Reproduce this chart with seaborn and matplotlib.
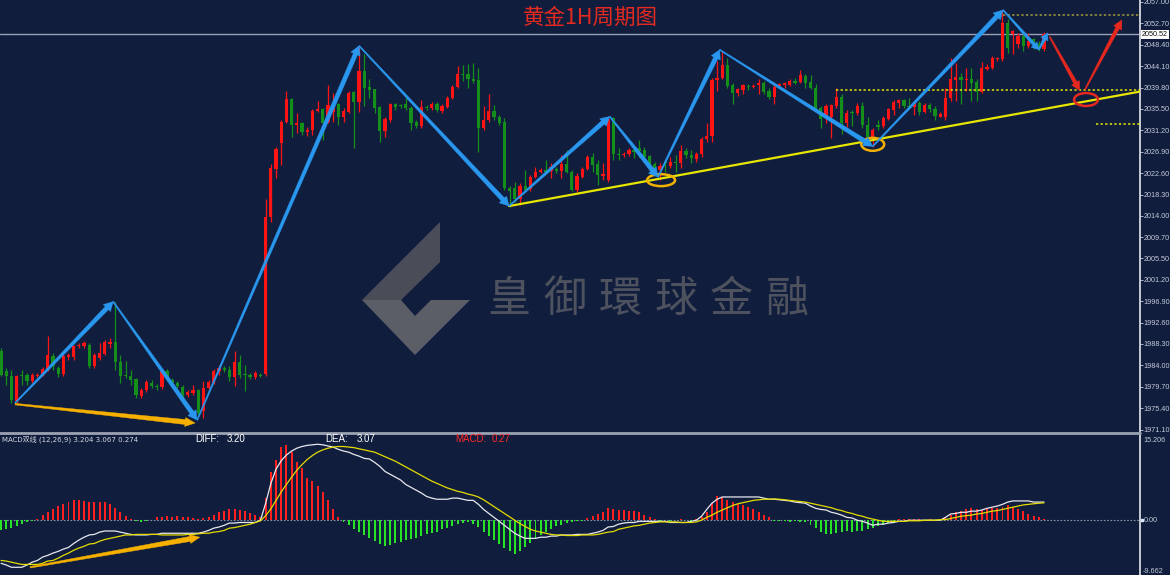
import numpy as np
import matplotlib
matplotlib.use('Agg')
import matplotlib.pyplot as plt
import seaborn as sns
from matplotlib.patches import Polygon, Ellipse
from matplotlib.lines import Line2D
from matplotlib.transforms import IdentityTransform

# gold 1H candles (bar index 0..201)
opens = [
    1986.8, 1982.8, 1981.8, 1976.8, 1982.0, 1982.0, 1980.8, 1981.9, 1982.2, 1983.0,
    1985.8, 1983.4, 1982.2, 1985.6, 1985.6, 1987.8, 1987.8, 1988.0, 1983.8, 1985.4,
    1986.2, 1988.2, 1988.6, 1984.6, 1982.0, 1981.8, 1981.2, 1977.8, 1979.0, 1980.4,
    1979.8, 1979.6, 1982.8, 1981.0, 1980.4, 1979.6, 1978.0, 1978.4, 1979.0, 1974.8,
    1979.4, 1980.4, 1982.8, 1983.4, 1983.0, 1981.6, 1984.6, 1982.2, 1982.0, 1981.6,
    1982.1, 1982.2, 2013.7, 2023.4, 2028.6, 2032.8, 2037.6, 2032.2, 2032.6, 2030.8,
    2031.2, 2035.0, 2035.4, 2032.8, 2034.8, 2036.6, 2033.8, 2034.8, 2039.0, 2037.0,
    2043.2, 2040.0, 2039.6, 2036.0, 2031.0, 2033.2, 2036.6, 2036.3, 2036.6, 2035.6,
    2032.8, 2032.0, 2036.0, 2035.6, 2036.6, 2035.0, 2036.0, 2037.8, 2040.0, 2042.6,
    2042.6, 2041.6, 2041.4, 2031.6, 2033.2, 2035.0, 2033.8, 2032.8, 2019.6, 2019.6,
    2017.5, 2020.0, 2019.4, 2021.8, 2022.8, 2023.2, 2023.0, 2023.4, 2023.0, 2024.4,
    2022.8, 2019.2, 2021.8, 2023.4, 2025.8, 2024.4, 2022.1, 2021.2, 2033.6, 2026.4,
    2026.2, 2026.4, 2027.2, 2027.6, 2027.2, 2026.0, 2024.4, 2023.2, 2024.8, 2024.0,
    2024.8, 2024.6, 2027.0, 2026.2, 2025.4, 2026.4, 2029.4, 2030.0, 2041.4, 2041.8,
    2044.4, 2040.4, 2038.8, 2039.4, 2040.2, 2040.0, 2040.4, 2040.8, 2039.2, 2038.0,
    2040.2, 2040.4, 2040.4, 2041.2, 2041.0, 2042.2, 2041.0, 2039.8, 2035.8, 2033.6,
    2033.8, 2036.2, 2038.0, 2032.6, 2034.8, 2034.6, 2036.2, 2032.2, 2029.6, 2032.2,
    2032.0, 2033.4, 2035.2, 2036.8, 2037.4, 2036.2, 2036.0, 2036.8, 2034.8, 2036.4,
    2035.4, 2033.8, 2033.8, 2037.8, 2041.4, 2042.0, 2041.4, 2041.6, 2041.0, 2039.0,
    2043.6, 2043.8, 2045.5, 2045.5, 2052.7, 2050.5, 2048.5, 2050.1, 2048.1, 2049.5,
    2048.5, 2047.5,
]
highs = [
    1987.4, 1983.4, 1983.0, 1982.0, 1983.0, 1982.4, 1982.4, 1982.4, 1983.6, 1989.8,
    1986.4, 1983.8, 1986.2, 1986.4, 1988.0, 1988.4, 1988.8, 1988.4, 1986.4, 1988.4,
    1989.0, 1989.4, 1996.7, 1986.0, 1984.8, 1983.0, 1981.4, 1979.4, 1981.0, 1981.0,
    1980.2, 1983.2, 1983.2, 1981.4, 1980.8, 1980.0, 1979.0, 1980.0, 1979.2, 1980.8,
    1981.0, 1983.2, 1984.0, 1983.8, 1983.8, 1986.8, 1986.0, 1984.0, 1982.4, 1982.8,
    1982.4, 2017.5, 2024.4, 2027.8, 2033.2, 2039.2, 2037.8, 2034.6, 2032.8, 2031.8,
    2035.4, 2037.2, 2035.6, 2040.4, 2038.8, 2036.8, 2035.6, 2039.2, 2039.2, 2047.9,
    2046.5, 2041.6, 2039.6, 2036.2, 2033.8, 2036.8, 2036.8, 2036.6, 2037.8, 2036.2,
    2033.2, 2037.4, 2036.4, 2037.0, 2037.0, 2036.6, 2038.2, 2040.4, 2044.2, 2044.4,
    2044.6, 2044.8, 2043.8, 2036.2, 2038.6, 2036.4, 2034.2, 2033.6, 2020.0, 2020.8,
    2020.6, 2023.2, 2022.2, 2023.8, 2023.6, 2025.2, 2024.6, 2023.8, 2026.2, 2027.2,
    2023.2, 2022.6, 2023.8, 2026.2, 2026.6, 2025.2, 2024.6, 2033.8, 2033.8, 2027.6,
    2026.8, 2027.6, 2027.6, 2029.2, 2027.8, 2026.2, 2024.8, 2024.6, 2025.2, 2025.8,
    2026.2, 2028.2, 2027.6, 2027.2, 2026.8, 2029.8, 2032.6, 2041.8, 2045.1, 2047.1,
    2045.7, 2040.8, 2039.8, 2040.6, 2040.6, 2040.6, 2041.6, 2041.2, 2039.8, 2040.6,
    2040.8, 2041.0, 2041.6, 2041.8, 2043.4, 2042.6, 2042.4, 2040.6, 2036.2, 2036.6,
    2036.6, 2039.8, 2038.6, 2035.2, 2035.2, 2036.8, 2037.0, 2033.8, 2031.6, 2033.2,
    2034.0, 2035.8, 2037.4, 2037.6, 2037.6, 2037.8, 2037.2, 2037.2, 2036.8, 2036.8,
    2036.2, 2034.8, 2039.8, 2045.7, 2044.8, 2042.8, 2043.8, 2043.8, 2041.6, 2045.0,
    2044.6, 2046.1, 2046.0, 2055.3, 2053.5, 2051.3, 2050.7, 2050.5, 2050.7, 2049.7,
    2049.1, 2050.9,
]
lows = [
    1981.8, 1980.0, 1976.4, 1976.4, 1980.0, 1980.0, 1980.4, 1981.6, 1981.8, 1982.8,
    1983.0, 1981.6, 1981.8, 1985.0, 1985.0, 1987.4, 1987.4, 1983.4, 1983.4, 1985.0,
    1986.0, 1987.4, 1983.0, 1980.4, 1981.4, 1980.0, 1977.4, 1977.4, 1978.6, 1979.4,
    1979.0, 1979.2, 1981.0, 1980.0, 1979.4, 1977.6, 1977.6, 1978.0, 1974.0, 1973.4,
    1979.0, 1980.2, 1982.0, 1982.6, 1980.8, 1979.8, 1981.4, 1978.8, 1981.2, 1981.2,
    1981.6, 1981.8, 2012.7, 2021.6, 2024.2, 2032.6, 2029.8, 2030.6, 2030.2, 2030.0,
    2030.2, 2034.8, 2029.2, 2032.6, 2032.8, 2032.2, 2032.8, 2034.6, 2027.6, 2034.8,
    2036.2, 2037.8, 2034.6, 2028.8, 2029.8, 2032.8, 2035.2, 2035.8, 2035.2, 2031.2,
    2031.6, 2031.6, 2035.2, 2035.2, 2034.8, 2034.6, 2035.6, 2037.6, 2039.8, 2041.2,
    2039.8, 2040.8, 2026.8, 2031.2, 2032.8, 2033.2, 2032.2, 2019.2, 2015.9, 2016.9,
    2016.3, 2018.8, 2019.0, 2021.6, 2022.6, 2022.6, 2021.6, 2022.6, 2021.6, 2022.6,
    2019.0, 2018.8, 2021.6, 2023.2, 2022.8, 2020.2, 2021.2, 2020.8, 2025.2, 2025.2,
    2025.8, 2026.0, 2025.6, 2025.8, 2025.2, 2023.2, 2022.6, 2021.2, 2022.8, 2023.6,
    2022.8, 2023.6, 2025.6, 2024.6, 2024.8, 2025.8, 2028.8, 2028.8, 2039.2, 2041.6,
    2039.8, 2036.6, 2038.2, 2038.6, 2039.4, 2039.8, 2038.6, 2038.6, 2037.6, 2036.6,
    2039.8, 2039.8, 2040.2, 2040.6, 2040.8, 2039.8, 2039.6, 2035.2, 2031.6, 2032.6,
    2029.6, 2035.8, 2030.4, 2031.8, 2032.0, 2034.2, 2031.6, 2029.2, 2027.8, 2031.2,
    2031.6, 2033.2, 2034.2, 2035.6, 2035.8, 2035.6, 2034.2, 2034.2, 2034.6, 2034.8,
    2033.2, 2033.8, 2033.2, 2037.2, 2037.2, 2036.6, 2039.2, 2037.2, 2037.2, 2038.8,
    2043.4, 2043.6, 2045.2, 2045.2, 2046.7, 2046.5, 2047.7, 2047.1, 2047.7, 2047.5,
    2047.1, 2047.2,
]
closes = [
    1982.0, 1981.8, 1977.0, 1981.8, 1981.8, 1980.8, 1982.0, 1982.1, 1983.2, 1986.0,
    1983.8, 1982.2, 1985.8, 1986.0, 1987.8, 1988.0, 1988.4, 1983.8, 1986.0, 1986.4,
    1988.6, 1988.6, 1984.6, 1981.8, 1981.8, 1981.0, 1978.0, 1979.0, 1980.6, 1979.8,
    1979.6, 1982.8, 1981.4, 1980.4, 1979.8, 1978.0, 1978.6, 1979.0, 1974.4, 1979.4,
    1980.6, 1982.8, 1983.4, 1983.0, 1981.6, 1984.6, 1982.0, 1982.0, 1981.6, 1982.4,
    1981.9, 2013.7, 2023.6, 2027.4, 2032.8, 2037.6, 2032.2, 2032.6, 2030.8, 2031.2,
    2035.0, 2035.4, 2032.6, 2036.4, 2036.8, 2033.8, 2035.0, 2038.8, 2037.0, 2043.2,
    2039.8, 2039.4, 2035.8, 2031.0, 2033.4, 2036.6, 2036.0, 2036.1, 2035.6, 2032.6,
    2032.0, 2036.0, 2035.6, 2036.6, 2035.2, 2036.2, 2037.8, 2040.0, 2042.6, 2042.4,
    2041.6, 2041.2, 2031.6, 2033.2, 2035.0, 2033.8, 2032.6, 2019.6, 2019.0, 2017.5,
    2020.0, 2019.2, 2021.8, 2022.8, 2023.2, 2022.8, 2023.8, 2023.0, 2024.4, 2022.8,
    2019.2, 2022.0, 2023.4, 2025.8, 2024.2, 2022.2, 2022.5, 2033.4, 2026.4, 2026.2,
    2026.4, 2027.2, 2026.8, 2027.0, 2025.8, 2024.4, 2023.2, 2024.0, 2024.6, 2024.8,
    2024.6, 2027.0, 2026.2, 2025.6, 2026.4, 2029.4, 2030.0, 2041.4, 2041.8, 2044.4,
    2040.2, 2038.8, 2039.6, 2040.4, 2040.0, 2040.2, 2040.8, 2039.0, 2038.0, 2040.0,
    2040.6, 2040.8, 2041.2, 2040.8, 2042.4, 2040.8, 2039.8, 2035.8, 2033.4, 2036.2,
    2036.4, 2038.0, 2032.6, 2034.6, 2034.6, 2036.2, 2032.2, 2029.8, 2031.2, 2031.8,
    2033.6, 2035.4, 2037.0, 2037.4, 2036.2, 2036.0, 2036.8, 2034.8, 2036.4, 2035.4,
    2034.0, 2034.4, 2037.8, 2041.6, 2042.0, 2041.4, 2041.6, 2040.8, 2039.0, 2043.8,
    2044.0, 2045.7, 2045.7, 2052.7, 2047.7, 2051.1, 2050.1, 2048.1, 2049.1, 2048.5,
    2047.7, 2050.5,
]

# MACD(12,26,9) panel
macd_diff = [
    -7.6, -7.9, -8.3, -8.3, -8.3, -7.9, -7.4, -7.1, -6.5, -6.2,
    -5.8, -5.5, -5.1, -4.8, -4.1, -3.5, -3.0, -2.6, -2.5, -2.1,
    -1.9, -1.9, -1.9, -2.1, -2.3, -2.5, -2.6, -2.6, -2.6, -2.5,
    -2.5, -2.3, -2.3, -2.3, -2.3, -2.3, -2.3, -2.3, -2.3, -2.1,
    -1.8, -1.4, -1.2, -0.9, -0.5, -0.5, -0.4, -0.4, -0.4, -0.4,
    0.0, 3.0, 6.5, 9.0, 10.5, 11.5, 12.2, 12.7, 13.0, 13.2,
    13.3, 13.4, 13.3, 13.1, 12.9, 12.5, 12.2, 12.0, 11.6, 11.3,
    10.9, 10.8, 10.2, 9.5, 8.6, 8.1, 7.6, 7.1, 6.3, 5.8,
    5.3, 4.8, 4.2, 3.9, 3.7, 3.7, 3.7, 3.9, 3.9, 3.7,
    3.5, 3.5, 2.8, 1.9, 1.2, 0.5, -0.2, -0.9, -1.6, -2.3,
    -2.8, -3.2, -3.2, -3.2, -3.0, -3.0, -2.8, -2.8, -2.6, -2.6,
    -2.6, -2.5, -2.5, -2.5, -2.3, -2.1, -1.8, -1.2, -1.1, -0.7,
    -0.5, -0.4, -0.4, -0.2, -0.2, -0.2, -0.2, -0.2, -0.2, -0.4,
    -0.4, -0.4, -0.4, -0.2, 0.0, 0.7, 1.9, 3.0, 3.7, 4.1,
    4.1, 4.1, 4.1, 4.1, 4.1, 4.1, 4.1, 3.9, 3.7, 3.7,
    3.6, 3.5, 3.4, 3.2, 3.1, 3.0, 2.5, 2.1, 1.9, 1.8,
    1.4, 1.2, 0.9, 0.5, 0.4, 0.0, -0.2, -0.5, -0.9, -0.7,
    -0.7, -0.5, -0.4, -0.2, -0.2, 0.0, 0.0, 0.0, 0.0, 0.0,
    0.0, 0.0, 0.5, 1.1, 1.2, 1.4, 1.4, 1.6, 1.6, 1.8,
    2.1, 2.3, 2.5, 2.8, 3.2, 3.4, 3.4, 3.4, 3.4, 3.2,
    3.2, 3.204,
]
macd_dea = [
    -7.1, -7.2, -7.4, -7.6, -7.8, -7.8, -7.8, -7.8, -7.6, -7.2,
    -7.1, -6.7, -6.2, -5.8, -5.3, -4.9, -4.6, -4.2, -4.1, -3.7,
    -3.4, -3.2, -3.0, -2.8, -2.6, -2.6, -2.5, -2.5, -2.5, -2.5,
    -2.5, -2.6, -2.6, -2.6, -2.6, -2.6, -2.5, -2.5, -2.4, -2.3,
    -2.3, -2.1, -2.0, -1.8, -1.4, -1.3, -1.1, -0.9, -0.7, -0.4,
    -0.1, 0.8, 2.0, 3.5, 5.0, 6.3, 7.6, 8.8, 9.8, 10.7,
    11.4, 12.0, 12.4, 12.7, 12.9, 13.0, 13.0, 12.9, 12.8, 12.6,
    12.4, 12.2, 12.0, 11.6, 11.2, 10.8, 10.4, 9.9, 9.4, 8.9,
    8.4, 7.9, 7.4, 6.9, 6.5, 6.1, 5.7, 5.4, 5.1, 4.9,
    4.6, 4.4, 4.1, 3.6, 3.0, 2.4, 1.8, 1.2, 0.6, 0.0,
    -0.6, -1.1, -1.6, -1.9, -2.1, -2.3, -2.5, -2.6, -2.6, -2.7,
    -2.7, -2.7, -2.6, -2.6, -2.6, -2.5, -2.3, -2.1, -2.0, -1.6,
    -1.4, -1.2, -1.0, -0.9, -0.7, -0.5, -0.4, -0.3, -0.3, -0.3,
    -0.3, -0.4, -0.4, -0.4, -0.3, 0.0, 0.5, 0.9, 1.4, 1.8,
    2.2, 2.6, 2.9, 3.1, 3.3, 3.5, 3.6, 3.7, 3.7, 3.75,
    3.7, 3.6, 3.5, 3.4, 3.3, 3.2, 3.0, 2.8, 2.6, 2.4,
    2.2, 1.9, 1.7, 1.4, 1.2, 0.9, 0.7, 0.4, 0.2, 0.0,
    -0.2, -0.2, -0.2, -0.2, -0.2, -0.1, -0.1, -0.1, 0.0, 0.0,
    0.0, 0.1, 0.1, 0.3, 0.5, 0.7, 0.8, 0.9, 1.1, 1.2,
    1.4, 1.6, 1.7, 1.9, 2.1, 2.3, 2.5, 2.7, 2.8, 2.9,
    3.0, 3.067,
]
macd_hist = [
    -1.8, -1.6, -1.3, -1.0, -0.7, -0.4, -0.2,
    0.3, 0.9, 1.5, 2.0, 2.5, 2.9, 3.2, 3.5, 3.5, 3.4, 3.3, 3.3, 3.3, 3.2, 2.8, 2.2, 1.5, 0.8,
    0.2, -0.2, -0.3, -0.2, 0.1,
    0.5, 0.6, 0.7, 0.6, 0.7, 0.6, 0.5, 0.4, 0.3, 0.4,
    0.6, 1.0, 1.4, 1.7, 1.9, 1.9, 1.8, 1.6, 1.3, 0.9, 0.6,
    4.0, 8.5, 10.6, 12.9, 13.2, 12.0, 10.2, 9.2, 7.4, 7.0, 6.0, 5.0, 3.5, 2.0, 0.5,
    -0.3, -0.9, -1.5, -2.1, -2.6, -3.2, -3.7, -4.2, -4.6, -4.3, -4.0, -3.8, -3.5, -3.3,
    -3.1, -2.8, -2.5, -2.2, -2.0, -1.6, -1.3, -1.0, -0.7, -0.5, -0.4, -0.6, -1.2,
    -2.0, -2.8, -3.5, -4.2, -4.9, -5.5, -5.9, -5.5, -4.8, -4.1, -3.2, -2.6, -2.1, -1.6,
    -1.1, -0.8, -0.5, -0.3, -0.2, -0.1,
    0.4, 0.8, 1.1, 1.4, 2.1, 2.0, 1.8, 1.8, 1.7, 1.6, 1.4, 1.0, 0.6,
    0.2, -0.1, 0.1, -0.1, 0.1, 0.2, 0.1, -0.1, 0.2,
    0.6, 1.5, 3.0, 4.2, 4.1, 3.6, 3.2, 2.9, 2.6, 2.3, 1.9, 1.5, 1.0, 0.5,
    -0.1, -0.2, -0.2, -0.3, -0.2, -0.3, -0.4,
    -0.8, -1.4, -2.0, -2.5, -2.4, -2.3, -2.1, -1.9, -2.0, -1.9, -1.9, -1.6, -1.4, -1.0, -0.8, -0.5,
    -0.2, 0.2, 0.3, 0.2, 0.3, 0.2, 0.1, 0.2, 0.1, 0.3, 0.6,
    1.0, 1.5, 1.7, 1.9, 2.1, 2.0, 1.8, 1.9, 2.1, 2.2, 2.4, 2.6, 2.4, 2.0, 1.6, 1.1, 0.8, 0.5, 0.274,
]

price_ticks = [2057.0, 2052.7, 2048.4, 2044.1, 2039.8, 2035.5, 2031.2, 2026.9, 2022.6,
               2018.3, 2014.0, 2009.7, 2005.5, 2001.2, 1996.9, 1992.6, 1988.3, 1984.0,
               1979.7, 1975.4, 1971.1]
last_price = 2050.52
macd_top, macd_bottom = 15.206, -9.662

# hand-drawn analysis marks, as (bar index, price)
blue_swings = [(2.7, 1976.4), (21.6, 1996.8), (37.8, 1973.0), (69.0, 2048.2),
               (97.9, 2016.0), (117.3, 2034.0), (126.6, 2021.8), (138.5, 2047.4),
               (168.0, 2028.0), (193.1, 2055.4), (200.0, 2047.4), (201.7, 2050.8)]
red_legs = [((202.1, 2050.0), (207.9, 2039.2)), ((208.9, 2039.4), (216.0, 2053.4))]
gold_leg = ((2.7, 1976.2), (37.4, 1972.4))
macd_gold_leg = ((5.6, -8.3), (38.3, -3.0))
trend_line = ((97.9, 2016.0), (219.5, 2039.0))
dotted_levels = [(2054.4, 193.1, '#a39c3a'), (2039.3, 161.0, '#e8e800'), (2032.4, 211.0, '#e8e800')]
circles = [((127.2, 2021.2), 5.4, 2.4, '#f2b100'), ((168.0, 2028.4), 4.4, 2.6, '#f2b100'),
           ((209.1, 2037.4), 4.6, 2.6, '#e8281e')]

BG = '#101d3d'
UP, DOWN = '#ff1414', '#14901a'
AXIS_TXT = '#c4cad6'
W, H = 1170, 575

sns.set_theme(style='dark', rc={'axes.facecolor': BG, 'figure.facecolor': BG})
plt.rcParams['font.family'] = ['DejaVu Sans', 'Noto Sans CJK SC']

fig = plt.figure(figsize=(W / 100, H / 100), dpi=100)
ax = fig.add_axes([0, 1 - 432 / H, 1140 / W, 432 / H])
ax2 = fig.add_axes([0, 0, 1140 / W, (H - 434) / H])

idx = np.arange(len(closes))
o, h, l, c = map(np.array, (opens, highs, lows, closes))
up = c >= o
cols = np.where(up, UP, DOWN)

for a in (ax, ax2):
    a.set_facecolor(BG)
    a.grid(False)
    a.set_xlim(-0.2, 219.5)
    a.set_xticks([])
    for s in ('left', 'top', 'bottom'):
        a.spines[s].set_visible(False)
    a.spines['right'].set_color('#d4d8e0')
    a.spines['right'].set_linewidth(1.3)

ax.set_ylim(1970.6, 2057.4)
ax2.set_ylim(macd_bottom, macd_top)


def px(x, y):
    return (x / W, 1 - y / H)


# watermark
logo_top = [(440, 222), (440, 262), (401, 300), (362, 300)]
logo_low = [(362, 300), (401, 300), (415, 316), (431, 300), (470, 300), (415, 355)]
ax.add_patch(Polygon([px(*p) for p in logo_top], closed=True, transform=fig.transFigure,
                     facecolor='#4a4d57', edgecolor='none', zorder=0.5))
ax.add_patch(Polygon([px(*p) for p in logo_low], closed=True, transform=fig.transFigure,
                     facecolor='#5c5e67', edgecolor='none', zorder=0.5))
for k, ch in enumerate('皇御環球金融'):
    fig.text(*px(509 + 55.6 * k, 300), ch, color='#4e525e', fontsize=31, ha='center',
             va='center', family=['Noto Sans CJK TC'], zorder=0.6)

# candles
ax.vlines(idx, l, h, colors=cols, linewidth=0.9, zorder=2)
body = np.maximum(np.abs(c - o), 0.2)
ax.bar(idx, body, bottom=np.minimum(o, c), width=0.62, color=cols, linewidth=0, zorder=3)

# levels
ax.axhline(last_price, color='#9aa1b5', lw=1.0, zorder=1.5)
for lvl, start, col in dotted_levels:
    ax.hlines(lvl, start, 219.5, colors=col, lw=1.1, linestyles=(0, (1.5, 1.5)), zorder=4)
(tx0, ty0), (tx1, ty1) = trend_line
ax.plot([tx0, tx1], [ty0, ty1], color='#e8e600', lw=1.6, zorder=4)
for (cx, cy), ew, eh, col in circles:
    ax.add_patch(Ellipse((cx, cy), ew, eh, fill=False, edgecolor=col, lw=1.8, zorder=6))


def taper_arrow(a, p0, p1, color, w0=1.2, w1=4.5, hl=9, hw=10):
    (x0, y0), (x1, y1) = a.transData.transform([p0, p1])
    dx, dy = x1 - x0, y1 - y0
    L = np.hypot(dx, dy)
    ux, uy = dx / L, dy / L
    nx, ny = -uy, ux
    bx, by = x1 - ux * hl, y1 - uy * hl
    pts = [(x0 + nx * w0 / 2, y0 + ny * w0 / 2), (bx + nx * w1 / 2, by + ny * w1 / 2),
           (bx + nx * hw / 2, by + ny * hw / 2), (x1, y1),
           (bx - nx * hw / 2, by - ny * hw / 2), (bx - nx * w1 / 2, by - ny * w1 / 2),
           (x0 - nx * w0 / 2, y0 - ny * w0 / 2)]
    a.add_patch(Polygon(pts, closed=True, transform=IdentityTransform(), facecolor=color,
                        edgecolor=color, lw=0.3, zorder=7, clip_on=False))


BLUE = '#2a97ef'
for k in range(len(blue_swings) - 1):
    short = k >= len(blue_swings) - 3
    taper_arrow(ax, blue_swings[k], blue_swings[k + 1], BLUE,
                w1=3.2 if short else 4.5, hl=7 if short else 9, hw=8 if short else 10)
for p0, p1 in red_legs:
    taper_arrow(ax, p0, p1, '#e8281e', w0=1.2, w1=3.8, hl=9, hw=9)
taper_arrow(ax, gold_leg[0], gold_leg[1], '#f5b000', w0=1.5, w1=5, hl=10, hw=9)

# right price axis
axis_font = ['Liberation Sans', 'DejaVu Sans']
ax.yaxis.tick_right()
ax.set_yticks(price_ticks)
ax.set_yticklabels([f'{v:.2f}' for v in price_ticks], family=axis_font)
ax.tick_params(axis='y', colors=AXIS_TXT, labelsize=5.2, length=2, width=0.6, pad=0.8)
ax.text(1 + 2 / 1140, last_price, f'{last_price:.2f}', transform=ax.get_yaxis_transform(),
        ha='left', va='center', fontsize=5.2, color='#101010', family=axis_font,
        bbox=dict(boxstyle='square,pad=0.12', facecolor='white', edgecolor='none'))

# MACD panel
hcols = np.where(np.array(macd_hist) >= 0, '#ff1f1f', '#27e327')
ax2.bar(idx, macd_hist, width=0.38, color=hcols, linewidth=0, zorder=2)
ax2.axhline(0, color='#8a93a6', lw=0.8, ls=(0, (1.5, 1.5)), zorder=1)
sns.lineplot(x=idx, y=macd_diff, ax=ax2, color='#e8e8ee', lw=0.9, legend=False, zorder=4)
sns.lineplot(x=idx, y=macd_dea, ax=ax2, color='#e4dc00', lw=0.9, legend=False, zorder=4)
ax2.set_xlim(-0.2, 219.5)
ax2.set_ylim(macd_bottom, macd_top)
ax2.set_ylabel('')
ax2.set_yticks([])
taper_arrow(ax2, macd_gold_leg[0], macd_gold_leg[1], '#f5b000', w0=1.5, w1=5, hl=10, hw=9)

ytr = ax2.get_yaxis_transform()
ax2.text(1 + 3 / 1140, macd_top - 0.5, f'{macd_top:.3f}', transform=ytr, ha='left', va='top',
         fontsize=5.2, color=AXIS_TXT, family=axis_font)
ax2.plot([1 + 2 / 1140], [0], transform=ytr, marker='s', ms=2, color='#d8ecff', clip_on=False)
ax2.text(1 + 4 / 1140, 0, '0.00', transform=ytr, ha='left', va='center',
         fontsize=5.2, color=AXIS_TXT, family=axis_font)
ax2.text(1 + 3 / 1140, macd_bottom, f'{macd_bottom:.3f}', transform=ytr, ha='left',
         va='bottom', fontsize=5.2, color=AXIS_TXT, family=axis_font)

fig.add_artist(Line2D([0, 1140 / W], [1 - 433 / H] * 2, transform=fig.transFigure,
                      color='#9ba2b2', lw=2.0))

# texts
fig.text(*px(590, 18), '黄金1H周期图', color='#e42a20', fontsize=15.5, ha='center',
         va='center', family=['Noto Sans CJK SC'])
fig.text(*px(2, 439), f'MACD双线 (12,26,9) {macd_diff[-1]:.3f} {macd_dea[-1]:.3f} {macd_hist[-1]:.3f}',
         color='#d6d8de', fontsize=5, ha='left', va='center')
lab_font = ['Liberation Sans', 'DejaVu Sans']
labels = [(195, 'DIFF:', 'white'), (227, f'{macd_diff[-1]:.2f}', 'white'),
          (325, 'DEA:', 'white'), (357, f'{macd_dea[-1]:.2f}', 'white'),
          (455, 'MACD:', '#ff2a2a'), (492, f'{macd_hist[-1]:.2f}', '#ff2a2a')]
for x, s, col in labels:
    fig.text(*px(x, 439), s, color=col, fontsize=7, ha='left', va='center', family=lab_font)

fig.savefig('out.png', dpi=100, facecolor=BG)
